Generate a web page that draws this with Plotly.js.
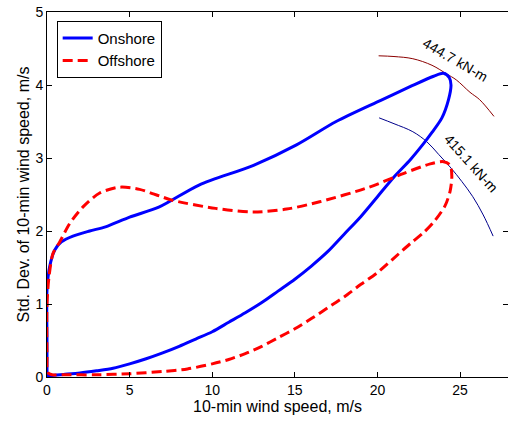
<!DOCTYPE html>
<html>
<head>
<meta charset="utf-8">
<script src="https://cdn.plot.ly/plotly-3.0.1.min.js"></script>
<style>html,body{margin:0;padding:0;background:#fff;overflow:hidden}</style>
</head>
<body>
<div id="chart" style="width:508px;height:423px"></div>
<script>
// Onshore loop (10-min wind speed, std dev)
var onshoreX = [0, 0, 0, 0.16, 0.47, 0.87, 1.57, 2.58, 3.59, 5.0, 6.8, 9.2, 12.5, 15.1, 17.5, 20.2, 22.0, 23.4, 24.0, 24.35, 24.45, 24.3, 23.9, 23.3, 22.8, 22.0, 21.0, 20.0, 19.0, 18.0, 17.0, 16.0, 15.0, 14.0, 13.0, 12.0, 11.0, 10.0, 9.0, 8.0, 7.0, 6.0, 5.0, 4.0, 3.0, 2.0, 1.0, 0.2, 0];
var onshoreY = [0, 0.5, 1.19, 1.51, 1.74, 1.85, 1.93, 2.0, 2.06, 2.19, 2.33, 2.63, 2.9, 3.18, 3.5, 3.79, 3.98, 4.12, 4.16, 4.1, 4.0, 3.8, 3.55, 3.35, 3.2, 2.98, 2.74, 2.47, 2.2, 1.96, 1.72, 1.52, 1.34, 1.18, 1.02, 0.88, 0.75, 0.62, 0.52, 0.42, 0.33, 0.25, 0.18, 0.12, 0.085, 0.055, 0.035, 0.02, 0.02];
// Offshore loop
var offshoreX = [0, 0, 0.12, 0.36, 0.77, 1.37, 2.18, 3.19, 4.4, 5.6, 6.8, 7.6, 10.2, 12.5, 14.5, 16.5, 19.5, 21.6, 23.2, 24.0, 24.4, 24.5, 24.4, 24.1, 23.5, 22.8, 22.0, 21.0, 20.0, 19.0, 18.0, 17.0, 16.0, 15.0, 14.0, 13.0, 12.0, 11.0, 10.0, 8.5, 7.0, 5.0, 3.0, 1.0, 0.3, 0.05, 0];
var offshoreY = [0.3, 1.0, 1.37, 1.69, 1.85, 2.1, 2.33, 2.52, 2.6, 2.57, 2.48, 2.42, 2.31, 2.26, 2.3, 2.4, 2.6, 2.79, 2.92, 2.95, 2.9, 2.75, 2.55, 2.35, 2.15, 1.98, 1.83, 1.63, 1.43, 1.27, 1.1, 0.95, 0.8, 0.66, 0.54, 0.42, 0.32, 0.24, 0.18, 0.11, 0.075, 0.045, 0.03, 0.03, 0.03, 0.06, 0.3];
// Load contour lines
var contourHighX = [20.07, 21.0, 22.14, 23.3, 24.2, 24.77, 25.6, 26.18, 27.05];
var contourHighY = [4.40, 4.39, 4.36, 4.27, 4.15, 4.07, 3.90, 3.80, 3.57];
var contourLowX = [20.1, 21.0, 22.14, 23.0, 23.7, 24.46, 25.1, 25.77, 26.4, 27.0];
var contourLowY = [3.55, 3.47, 3.36, 3.22, 3.05, 2.86, 2.68, 2.47, 2.22, 1.93];
var contourLabels = ["444.7 kN-m", "415.1 kN-m"];
var labelX = [24.72, 25.65];
var labelY = [4.34, 2.93];
var labelAngle = [30, 48];
var xTicks = [0, 5, 10, 15, 20, 25];
var yTicks = [0, 1, 2, 3, 4, 5];

var fontFam = "Liberation Sans, Arial, Helvetica, sans-serif";

var traces = [
  {x: contourHighX, y: contourHighY, mode: "lines", line: {color: "#8b0000", width: 1, shape: "spline"}, showlegend: false, hoverinfo: "skip"},
  {x: contourLowX, y: contourLowY, mode: "lines", line: {color: "#00008b", width: 1, shape: "spline"}, showlegend: false, hoverinfo: "skip"},
  {x: onshoreX, y: onshoreY, name: "Onshore", mode: "lines", line: {color: "#0000ff", width: 3, shape: "spline", smoothing: 0.8}},
  {x: offshoreX, y: offshoreY, name: "Offshore", mode: "lines", line: {color: "#ff0000", width: 3, dash: "10px,5px", shape: "spline", smoothing: 0.8}}
];

var annotations = contourLabels.map(function (t, i) {
  return {x: labelX[i], y: labelY[i], xref: "x", yref: "y", text: t, showarrow: false,
          textangle: labelAngle[i], xanchor: "center", yanchor: "middle",
          font: {family: fontFam, size: 14, color: "#000"}};
});

var axisCommon = {
  showgrid: false, zeroline: false, showline: true, mirror: "ticks",
  linecolor: "#000", linewidth: 1, ticks: "inside", ticklen: 5, tickcolor: "#000",
  tickfont: {family: fontFam, size: 14, color: "#000"}
};

var layout = {
  width: 508, height: 423,
  margin: {l: 47, r: 0, t: 12, b: 46},
  paper_bgcolor: "#fff", plot_bgcolor: "#fff",
  font: {family: fontFam, color: "#000"},
  xaxis: Object.assign({}, axisCommon, {
    range: [0, 27.9], tickvals: xTicks, ticktext: xTicks.map(String),
    title: {text: "10-min wind speed, m/s", font: {family: fontFam, size: 16, color: "#000"}, standoff: 4}
  }),
  yaxis: Object.assign({}, axisCommon, {
    range: [0, 5], tickvals: yTicks, ticktext: yTicks.map(String),
    title: {text: "Std. Dev. of 10-min wind speed, m/s", font: {family: fontFam, size: 16, color: "#000"}, standoff: 1}
  }),
  legend: {x: 0.021, y: 0.976, xanchor: "left", yanchor: "top", bgcolor: "#fff",
           bordercolor: "#000", borderwidth: 1, font: {family: fontFam, size: 15, color: "#000"},
           tracegroupgap: 0},
  annotations: annotations,
  showlegend: true
};

Plotly.newPlot("chart", traces, layout, {displayModeBar: false, staticPlot: true});
</script>
</body>
</html>
